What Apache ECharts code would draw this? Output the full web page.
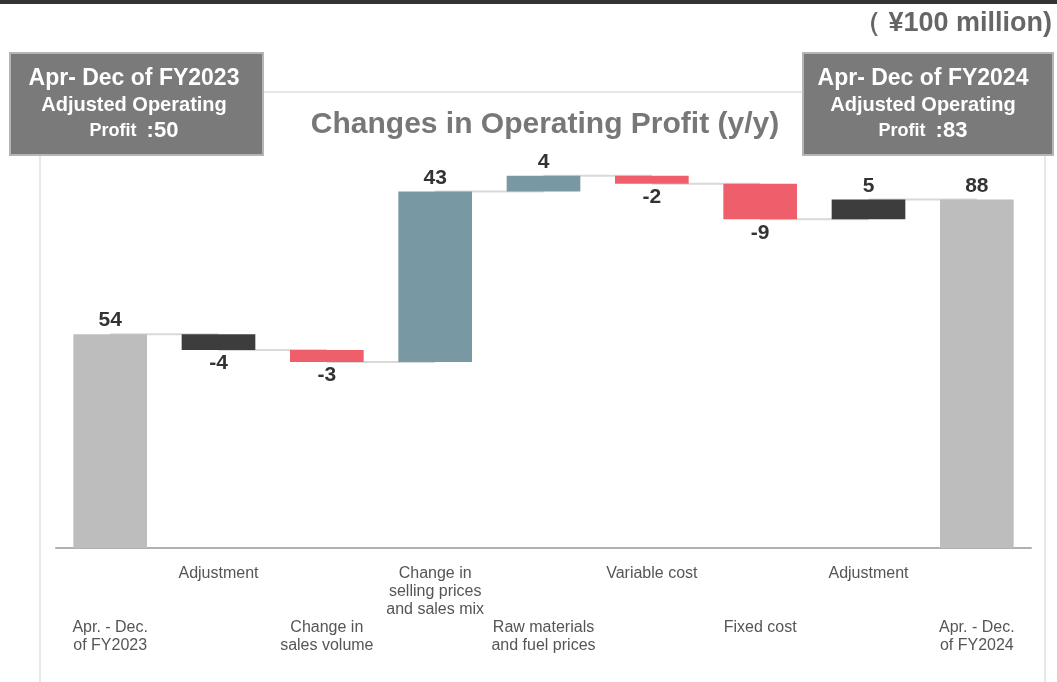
<!DOCTYPE html>
<html>
<head>
<meta charset="utf-8">
<script src="https://cdn.jsdelivr.net/npm/echarts@6/dist/echarts.min.js"></script>
<style>
  html, body { margin: 0; padding: 0; background: #fff; }
  #main { width: 1057px; height: 682px; }
</style>
</head>
<body>
<div id="main"></div>
<script>
// waterfall data (¥100 million)
var categories = [
  'Apr. - Dec.\nof FY2023', 'Adjustment', 'Change in\nsales volume',
  'Change in\nselling prices\nand sales mix', 'Raw materials\nand fuel prices',
  'Variable cost', 'Fixed cost', 'Adjustment', 'Apr. - Dec.\nof FY2024'
];
var changes = [54, -4, -3, 43, 4, -2, -9, 5, 88];
var kinds = ['total', 'adjust', 'delta', 'delta', 'delta', 'delta', 'delta', 'adjust', 'total'];

var colors = {
  total: '#bdbdbd',
  adjust: '#3d3d3d',
  up: '#7898a3',
  down: '#ef5f6b'
};

// build base (invisible) + visible parts
var baseData = [];
var barData = [];
var levels = [];
var running = 0;
for (var i = 0; i < changes.length; i++) {
  var v = changes[i];
  var color;
  if (kinds[i] === 'total') {
    baseData.push(0);
    running = v;
    color = colors.total;
  } else {
    var end = running + v;
    baseData.push(Math.min(running, end));
    running = end;
    color = kinds[i] === 'adjust' ? colors.adjust : (v < 0 ? colors.down : colors.up);
  }
  levels.push(running);
  barData.push({
    value: Math.abs(v),
    itemStyle: { color: color },
    label: {
      position: v < 0 ? 'bottom' : 'top',
      formatter: String(v)
    }
  });
}

// connectors from each bar end to the next bar
var connectors = [];
for (var j = 0; j < levels.length - 1; j++) {
  connectors.push([j, levels[j]]);
}

var dom = document.getElementById('main');
var myChart = echarts.init(dom);
var option;

option = {
  animation: false,
  grid: {
    left: 56,
    right: 26,
    top: 152,
    bottom: 134
  },
  xAxis: {
    type: 'category',
    data: categories,
    axisTick: { show: false },
    axisLine: { lineStyle: { color: '#b0b0b0', width: 2 } },
    axisLabel: {
      interval: 0,
      margin: 17,
      color: '#555',
      fontSize: 16,
      lineHeight: 18,
      fontFamily: 'Liberation Sans Narrow, Liberation Sans, Arial',
      formatter: function (value, idx) {
        return idx % 2 === 0 ? '\n\n\n' + value : value;
      }
    }
  },
  yAxis: {
    type: 'value',
    min: 0,
    max: 100,
    show: false
  },
  series: [
    {
      type: 'bar',
      stack: 'wf',
      silent: true,
      itemStyle: { color: 'transparent' },
      data: baseData
    },
    {
      type: 'bar',
      stack: 'wf',
      barWidth: '68%',
      z: 3,
      label: {
        show: true,
        color: '#333',
        fontSize: 21,
        fontWeight: 'bold',
        fontFamily: 'Liberation Sans, Arial',
        distance: 3
      },
      data: barData
    },
    {
      type: 'custom',
      z: 1,
      silent: true,
      renderItem: function (params, api) {
        var p1 = api.coord([api.value(0), api.value(1)]);
        var p2 = api.coord([api.value(0) + 1, api.value(1)]);
        return {
          type: 'line',
          shape: { x1: p1[0], y1: p1[1], x2: p2[0], y2: p2[1] },
          style: { stroke: '#d9d9d9', lineWidth: 2 }
        };
      },
      data: connectors
    }
  ],
  graphic: [
    { type: 'rect', shape: { x: 0, y: 0, width: 1057, height: 4 }, style: { fill: '#333' } },
    {
      type: 'text', right: 5, top: 10,
      style: { text: '（ ¥100 million)', fill: '#666', font: 'bold 27px Liberation Sans, Arial' }
    },
    // light frame around the chart
    { type: 'line', shape: { x1: 263, y1: 92, x2: 803, y2: 92 }, style: { stroke: '#e0e0e0', lineWidth: 1.5 } },
    { type: 'line', shape: { x1: 40, y1: 155, x2: 40, y2: 682 }, style: { stroke: '#e0e0e0', lineWidth: 1.5 } },
    { type: 'line', shape: { x1: 1045, y1: 155, x2: 1045, y2: 682 }, style: { stroke: '#e0e0e0', lineWidth: 1.5 } },
    {
      type: 'text', x: 545, y: 125,
      style: {
        text: 'Changes in Operating Profit (y/y)', fill: '#777',
        font: 'bold 30px Liberation Sans, Arial', textAlign: 'center', textVerticalAlign: 'middle'
      }
    },
    // left box
    { type: 'rect', shape: { x: 10, y: 53, width: 253, height: 102 }, style: { fill: '#7a7a7a', stroke: '#b5b5b5', lineWidth: 2 } },
    {
      type: 'text', x: 134, y: 65,
      style: {
        text: '{a|Apr- Dec of FY2023}\n{b|Adjusted Operating}\n{c|Profit  }{d|:50}',
        textAlign: 'center',
        rich: {
          a: { fill: '#fff', font: 'bold 23px Liberation Sans, Arial', lineHeight: 27 },
          b: { fill: '#fff', font: 'bold 20px Liberation Sans, Arial', lineHeight: 26 },
          c: { fill: '#fff', font: 'bold 18px Liberation Sans, Arial', lineHeight: 26 },
          d: { fill: '#fff', font: 'bold 22px Liberation Sans, Arial', lineHeight: 26 }
        }
      }
    },
    // right box
    { type: 'rect', shape: { x: 803, y: 53, width: 250, height: 102 }, style: { fill: '#7a7a7a', stroke: '#b5b5b5', lineWidth: 2 } },
    {
      type: 'text', x: 923, y: 65,
      style: {
        text: '{a|Apr- Dec of FY2024}\n{b|Adjusted Operating}\n{c|Profit  }{d|:83}',
        textAlign: 'center',
        rich: {
          a: { fill: '#fff', font: 'bold 23px Liberation Sans, Arial', lineHeight: 27 },
          b: { fill: '#fff', font: 'bold 20px Liberation Sans, Arial', lineHeight: 26 },
          c: { fill: '#fff', font: 'bold 18px Liberation Sans, Arial', lineHeight: 26 },
          d: { fill: '#fff', font: 'bold 22px Liberation Sans, Arial', lineHeight: 26 }
        }
      }
    }
  ]
};

if (option && typeof option === 'object') {
  myChart.setOption(option);
}
</script>
</body>
</html>
